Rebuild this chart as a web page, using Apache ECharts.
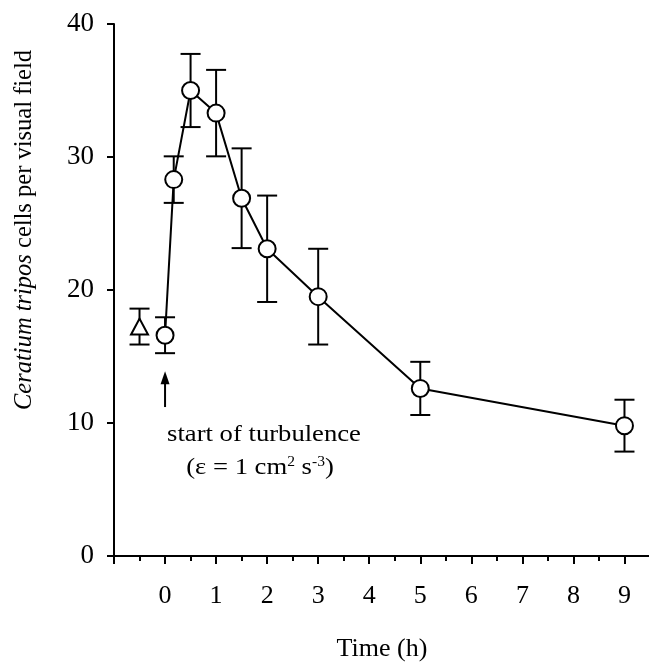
<!DOCTYPE html>
<html>
<head>
<meta charset="utf-8">
<script src="https://cdn.jsdelivr.net/npm/echarts@6/dist/echarts.min.js"></script>
<style>
  html, body { margin: 0; padding: 0; background: #fff; }
  #main { width: 649px; height: 662px; }
</style>
</head>
<body>
<div id="main"></div>
<script>
// time after start of turbulence (h)
var timeH = [0, 0.17, 0.5, 1, 1.5, 2, 3, 5, 9];
var cells = [16.6, 28.3, 35.0, 33.3, 26.9, 23.1, 19.5, 12.6, 9.8];
var cellsErr = [1.35, 1.75, 2.75, 3.25, 3.75, 4.0, 3.6, 2.0, 1.95];
// control (before turbulence)
var ctrlTime = [-0.5];
var ctrlCells = [17.25];
var ctrlErr = [1.35];

var FONT = '"Liberation Serif", "DejaVu Serif", serif';

function errData(xs, ys, es) {
  return xs.map(function (x, i) { return [x, ys[i] - es[i], ys[i] + es[i]]; });
}

function renderErr(params, api) {
  var x = api.value(0);
  var lo = api.coord([x, api.value(1)]);
  var hi = api.coord([x, api.value(2)]);
  var w = 10;
  var st = { stroke: '#000', lineWidth: 2 };
  return {
    type: 'group',
    children: [
      { type: 'line', shape: { x1: lo[0], y1: lo[1], x2: hi[0], y2: hi[1] }, style: st },
      { type: 'line', shape: { x1: lo[0] - w, y1: lo[1], x2: lo[0] + w, y2: lo[1] }, style: st },
      { type: 'line', shape: { x1: hi[0] - w, y1: hi[1], x2: hi[0] + w, y2: hi[1] }, style: st }
    ]
  };
}

var chart = echarts.init(document.getElementById('main'));

var option = {
  animation: false,
  backgroundColor: '#fff',
  grid: { left: 114, top: 24, width: 536, height: 532, outerBoundsMode: 'none', containLabel: false },
  xAxis: {
    type: 'value',
    min: -1,
    max: 9.5,
    interval: 1,
    name: 'Time (h)',
    nameLocation: 'middle',
    nameGap: 80,
    nameTextStyle: { fontFamily: FONT, fontSize: 26, color: '#000' },
    axisLine: { onZero: false, lineStyle: { color: '#000', width: 2 } },
    axisTick: { inside: false, length: 8, lineStyle: { color: '#000', width: 2 } },
    minorTick: { show: true, splitNumber: 2, length: 5, lineStyle: { color: '#000', width: 2 } },
    axisLabel: {
      margin: 27,
      fontFamily: FONT, fontSize: 26, color: '#000',
      formatter: function (v) { return (v < 0 || v % 1 !== 0) ? '' : String(v); }
    },
    splitLine: { show: false }
  },
  yAxis: {
    type: 'value',
    min: 0,
    max: 40,
    interval: 10,
    axisLine: { onZero: false, lineStyle: { color: '#000', width: 2 } },
    axisTick: { inside: false, length: 7, lineStyle: { color: '#000', width: 2 } },
    axisLabel: { margin: 20, fontFamily: FONT, fontSize: 27, color: '#000' },
    splitLine: { show: false }
  },
  graphic: [
    {
      type: 'text',
      x: 25, y: 230,
      rotation: Math.PI / 2,
      style: {
        text: '{i|Ceratium tripos} cells per visual field',
        fontFamily: FONT, fontSize: 24.5, fill: '#000',
        align: 'center', verticalAlign: 'middle',
        rich: { i: { fontFamily: FONT, fontSize: 24.5, fontStyle: 'italic', fill: '#000' } }
      }
    },
    {
      type: 'text',
      x: 264, y: 435,
      scaleX: 1.11,
      style: {
        text: 'start of turbulence',
        fontFamily: FONT, fontSize: 24, fill: '#000',
        align: 'center', verticalAlign: 'middle'
      }
    },
    {
      type: 'text',
      x: 260, y: 468,
      scaleX: 1.11,
      style: {
        text: '(ε = 1 cm{sup|2} s{sup|-3})',
        fontFamily: FONT, fontSize: 24, fill: '#000',
        align: 'center', verticalAlign: 'middle',
        rich: { sup: { fontFamily: FONT, fontSize: 14, fill: '#000', verticalAlign: 'top', lineHeight: 26 } }
      }
    }
  ],
  series: [
    {
      type: 'custom',
      renderItem: renderErr,
      data: errData(timeH, cells, cellsErr),
      z: 1,
      silent: true
    },
    {
      type: 'custom',
      renderItem: renderErr,
      data: errData(ctrlTime, ctrlCells, ctrlErr),
      z: 1,
      silent: true
    },
    {
      type: 'line',
      data: timeH.map(function (t, i) { return [t, cells[i]]; }),
      symbol: 'circle',
      symbolSize: 17,
      lineStyle: { color: '#000', width: 2 },
      itemStyle: { color: '#fff', borderColor: '#000', borderWidth: 2, opacity: 1 },
      z: 3
    },
    {
      type: 'scatter',
      data: ctrlTime.map(function (t, i) { return [t, ctrlCells[i]]; }),
      symbol: 'triangle',
      symbolSize: [17, 16],
      itemStyle: { color: '#fff', borderColor: '#000', borderWidth: 2, opacity: 1 },
      z: 3
    }
  ]
};

chart.setOption(option);

// arrow marking start of turbulence at t = 0
var tip = chart.convertToPixel({ gridIndex: 0 }, [0, 13.9]);
var tail = chart.convertToPixel({ gridIndex: 0 }, [0, 11.2]);
chart.setOption({
  graphic: option.graphic.concat([
    {
      type: 'line',
      shape: { x1: tail[0], y1: tail[1], x2: tip[0], y2: tip[1] + 8 },
      style: { stroke: '#000', lineWidth: 2 }
    },
    {
      type: 'polygon',
      shape: { points: [[tip[0], tip[1]], [tip[0] - 4.5, tip[1] + 13], [tip[0] + 4.5, tip[1] + 13]] },
      style: { fill: '#000' }
    }
  ])
});
</script>
</body>
</html>
